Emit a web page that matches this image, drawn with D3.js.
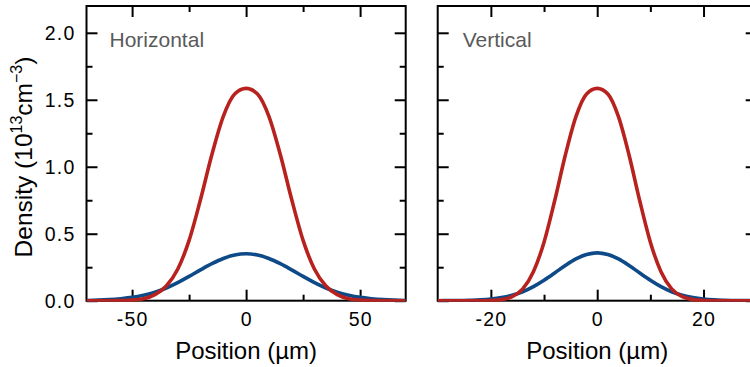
<!DOCTYPE html>
<html>
<head>
<meta charset="utf-8">
<script src="https://cdn.jsdelivr.net/npm/d3@7"></script>
<style>
body { margin: 0; background: #fff; }
svg { display: block; font-family: "Liberation Sans", Arial, Helvetica, sans-serif; }
</style>
</head>
<body>
<svg id="chart" width="750" height="367"></svg>
<script>
//horizontal profile, positions in um
var hPos = [-70,-65,-60,-55,-50,-45,-40,-35,-30,-25,-20,-15,-10,-5,0,5,10,15,20,25,30,35,40,45,50,55,60,65,70];
var hRed = [0,0,0,0.001,0.004,0.014,0.045,0.110,0.235,0.450,0.755,1.091,1.376,1.543,1.585,1.543,1.376,1.091,0.755,0.450,0.235,0.110,0.045,0.014,0.004,0.001,0,0,0];
var hBlue = [0.002,0.004,0.008,0.015,0.025,0.041,0.063,0.095,0.135,0.182,0.230,0.276,0.315,0.341,0.350,0.341,0.315,0.276,0.230,0.182,0.135,0.095,0.063,0.041,0.025,0.015,0.008,0.004,0.002];

//vertical profile, positions in um
var vPos = [-30,-28,-26,-24,-22,-20,-18,-16,-14,-12,-10,-8,-6,-4,-2,0,2,4,6,8,10,12,14,16,18,20,22,24,26,28,30];
var vRed = [0,0,0,0,0,0.002,0.008,0.030,0.088,0.216,0.437,0.746,1.086,1.374,1.543,1.585,1.543,1.374,1.086,0.746,0.437,0.216,0.088,0.030,0.008,0.002,0,0,0,0,0];
var vBlue = [0,0.0005,0.001,0.003,0.006,0.012,0.023,0.041,0.067,0.105,0.153,0.207,0.263,0.312,0.345,0.357,0.345,0.312,0.263,0.207,0.153,0.105,0.067,0.041,0.023,0.012,0.006,0.003,0.001,0.0005,0];

//tick values
var hMajor = [-50, 0, 50];
var hMinor = [-25, 25];
var vMajor = [-20, 0, 20];
var vMinor = [-10, 10];
var yMajor = [0, 0.5, 1, 1.5, 2];
var yMinor = [0.25, 0.75, 1.25, 1.75];
var yLabels = ["0.0", "0.5", "1.0", "1.5", "2.0"];

var red = "#b8221e";
var blue = "#0f4a88";

var svg = d3.select("#chart");
var y = d3.scaleLinear().domain([0, 2.2]).range([300.7, 6]);

//draws one framed panel with its ticks and two curves
function draw_panel(opts) {
    var x = d3.scaleLinear().domain(opts.domain).range(opts.range);
    var g = svg.append("g");
    var x0 = opts.range[0], x1 = opts.range[1];
    var yb = y(0), yt = y(2.2);

    //frame
    g.append("rect")
        .attr("x", x0).attr("y", yt)
        .attr("width", x1 - x0).attr("height", yb - yt)
        .attr("fill", "none")
        .attr("stroke", "#000")
        .attr("stroke-width", 2);

    //inward ticks on all four sides
    var sets = [
        [d3.axisBottom(x), opts.major, 11, "translate(0," + yb + ")"],
        [d3.axisBottom(x), opts.minor, 6, "translate(0," + yb + ")"],
        [d3.axisTop(x), opts.major, 11, "translate(0," + yt + ")"],
        [d3.axisTop(x), opts.minor, 6, "translate(0," + yt + ")"],
        [d3.axisLeft(y), yMajor, 11, "translate(" + x0 + ",0)"],
        [d3.axisLeft(y), yMinor, 6, "translate(" + x0 + ",0)"],
        [d3.axisRight(y), yMajor, 11, "translate(" + x1 + ",0)"],
        [d3.axisRight(y), yMinor, 6, "translate(" + x1 + ",0)"]
    ];
    sets.forEach(function(s) {
        var ax = g.append("g")
            .attr("transform", s[3])
            .call(s[0].tickValues(s[1]).tickSize(-s[2]).tickFormat(""));
        ax.select(".domain").remove();
        ax.selectAll("line").attr("stroke", "#000").attr("stroke-width", 2);
    });

    //x tick labels
    g.selectAll(".xlab")
        .data(opts.major)
        .enter().append("text")
        .attr("x", d => x(d) + 0.6)
        .attr("y", 326)
        .attr("text-anchor", "middle")
        .style("font-size", "19.5px")
        .style("letter-spacing", "1.2px")
        .text(d => d);

    //y tick labels, only on the first panel
    if (opts.yLabels) {
        g.selectAll(".ylab")
            .data(yMajor)
            .enter().append("text")
            .attr("x", x0 - 11)
            .attr("y", d => y(d) + 6.8)
            .attr("text-anchor", "end")
            .style("font-size", "19.5px")
            .style("letter-spacing", "1.2px")
            .text((d, i) => yLabels[i]);
    }

    //x axis title
    g.append("text")
        .attr("x", (x0 + x1) / 2)
        .attr("y", 358.5)
        .attr("text-anchor", "middle")
        .style("font-size", "24px")
        .text("Position (\u00b5m)");

    //panel name
    g.append("text")
        .attr("x", x0 + opts.nameDx)
        .attr("y", 46.8)
        .attr("fill", "#5a5a5a")
        .style("font-size", "21px")
        .text(opts.name);

    //curves, clipped to the plot area
    g.append("clipPath")
        .attr("id", opts.clip)
        .append("rect")
        .attr("x", x0).attr("y", yt)
        .attr("width", x1 - x0).attr("height", yb - yt + 1);

    var line = d3.line()
        .x(d => x(d[0]))
        .y(d => y(d[1]))
        .curve(d3.curveMonotoneX);

    [[opts.blue, blue], [opts.red, red]].forEach(function(c) {
        g.append("path")
            .datum(opts.pos.map((p, i) => [p, c[0][i]]))
            .attr("clip-path", "url(#" + opts.clip + ")")
            .attr("fill", "none")
            .attr("stroke", c[1])
            .attr("stroke-width", 3.6)
            .attr("stroke-linejoin", "round")
            .attr("d", line);
    });
}

draw_panel({
    domain: [-70, 70], range: [86.5, 405.7],
    major: hMajor, minor: hMinor,
    pos: hPos, red: hRed, blue: hBlue,
    name: "Horizontal", nameDx: 23, clip: "clipH", yLabels: true
});

draw_panel({
    domain: [-30, 30], range: [437.7, 756.7],
    major: vMajor, minor: vMinor,
    pos: vPos, red: vRed, blue: vBlue,
    name: "Vertical", nameDx: 25, clip: "clipV", yLabels: false
});

//y axis title with superscripts
var yt = svg.append("text")
    .attr("transform", "translate(31.5,157) rotate(-90)")
    .attr("text-anchor", "middle")
    .style("font-size", "24.5px");
yt.append("tspan").text("Density (10");
yt.append("tspan").attr("dy", -9.5).style("font-size", "16px").text("13");
yt.append("tspan").attr("dy", 9.5).text("cm");
yt.append("tspan").attr("dy", -9.5).style("font-size", "16px").text("\u22123");
yt.append("tspan").attr("dy", 9.5).text(")");
</script>
</body>
</html>
